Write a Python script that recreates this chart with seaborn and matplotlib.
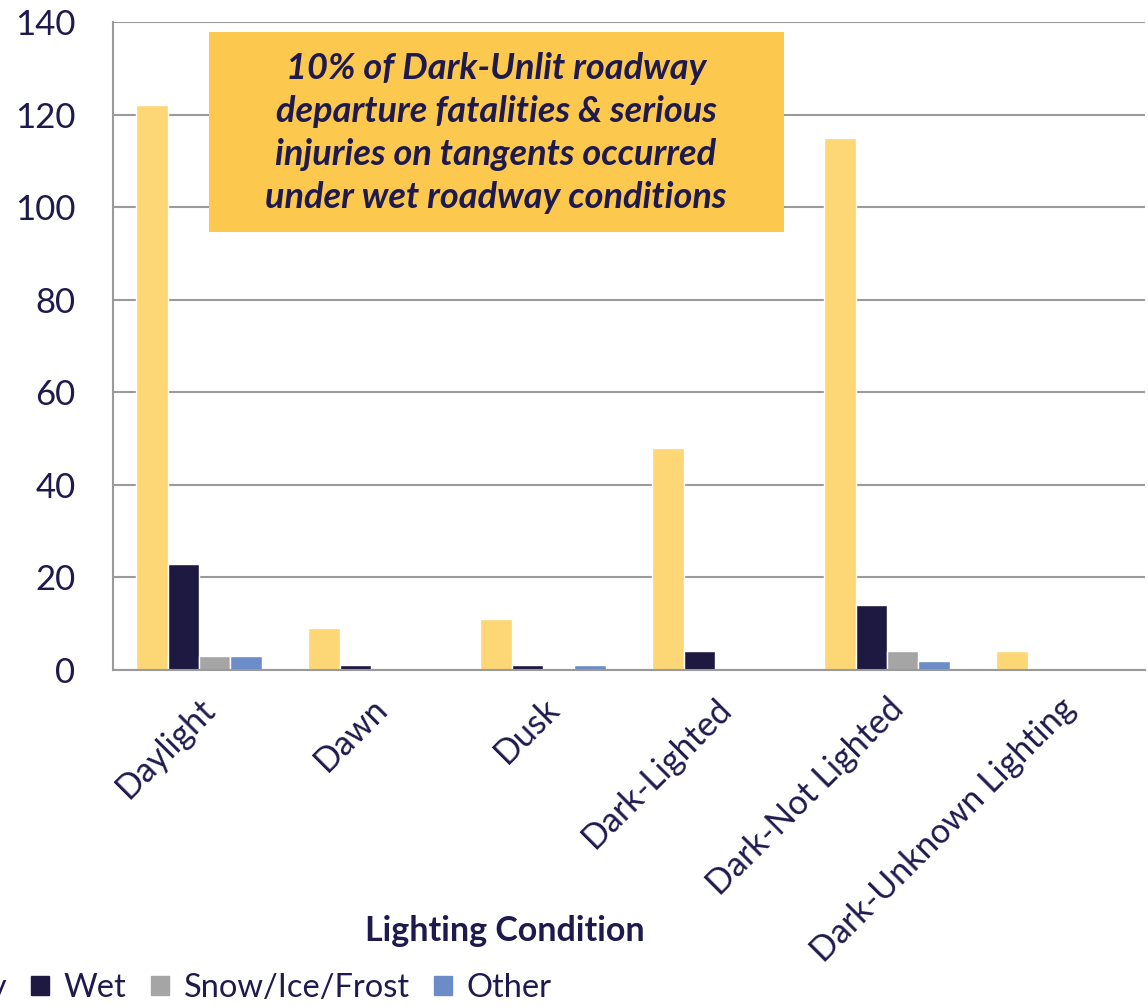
import pandas as pd
import numpy as np
import matplotlib.pyplot as plt
import seaborn as sns
from matplotlib.patches import Rectangle

# Daten
categories = ['Daylight', 'Dawn', 'Dusk', 'Dark-Lighted', 'Dark-Not Lighted', 'Dark-Unknown Lighting']
dry = [122, 9, 11, 48, 115, 4]
wet = [23, 1, 1, 4, 14, 0]
snow = [3, 0, 0, 0, 4, 0]
other = [3, 0, 1, 0, 2, 0]
series_names = ['Dry', 'Wet', 'Snow/Ice/Frost', 'Other']
colors = ['#FDD675', '#1E1941', '#A5A5A5', '#6C8CC8']
text_col = '#1F1A4D'

df = pd.DataFrame({'Lighting': categories, 'Dry': dry, 'Wet': wet,
                   'Snow/Ice/Frost': snow, 'Other': other})
long_df = df.melt(id_vars='Lighting', var_name='Surface', value_name='Count')

sns.set_style('white')
plt.rcParams['font.family'] = ['Lato', 'DejaVu Sans']

fig = plt.figure(figsize=(11.48, 10.06), dpi=100)
ax = fig.add_axes([113 / 1148, 1 - 670 / 1006, 1032 / 1148, 648 / 1006])

sns.barplot(data=long_df, x='Lighting', y='Count', hue='Surface',
            hue_order=series_names, palette=colors, width=0.73,
            saturation=1, ax=ax, legend=False)

ax.set_ylim(0, 140)
ax.set_xlim(-0.5, 5.5)
ax.set_yticks(range(0, 141, 20))
ax.yaxis.grid(True, color='#9A9A9A', linewidth=1.5)
ax.set_axisbelow(True)
for s in ['top', 'right']:
    ax.spines[s].set_visible(False)
for s in ['left', 'bottom']:
    ax.spines[s].set_color('#9A9A9A')
    ax.spines[s].set_linewidth(1.5)

ax.set_xticks(np.arange(-0.5, 6, 1), minor=True)
ax.tick_params(axis='x', which='minor', length=12, width=1.5, color='#9A9A9A', direction='out')
ax.tick_params(axis='x', which='major', length=0, pad=16)
ax.tick_params(axis='y', length=12, width=1.5, color='#9A9A9A', direction='out',
               labelsize=25, labelcolor=text_col, pad=15)
ax.set_xticks(range(len(categories)))
ax.set_xticklabels(categories, rotation=45, ha='right', rotation_mode='anchor',
                   fontsize=24.5, color=text_col)

ax.set_ylabel('')
ax.set_xlabel('Lighting Condition', fontsize=24.5, fontweight='bold', color=text_col)
ax.xaxis.set_label_coords(0.38, -0.378)

# Hinweisbox
fig.patches.append(Rectangle((209 / 1148, 1 - 232 / 1006), 575 / 1148, 200 / 1006,
                             transform=fig.transFigure, facecolor='#FCC94E',
                             edgecolor='none', zorder=5))
fig.text(496 / 1148, 1 - 133 / 1006,
         '10% of Dark-Unlit roadway\ndeparture fatalities & serious\n'
         'injuries on tangents occurred\nunder wet roadway conditions',
         ha='center', va='center', fontsize=26, fontweight='bold', style='italic',
         color=text_col, linespacing=1.38, zorder=6)

# Legende (links abgeschnitten wie im Original)
handles = [Rectangle((0, 0), 1, 1, color=c) for c in colors]
fig.legend(handles, series_names, loc='center', ncol=4,
           bbox_to_anchor=(236 / 1148, 1 - 988 / 1006), frameon=False,
           fontsize=23.5, labelcolor=text_col, handlelength=0.55, handleheight=0.55,
           handletextpad=0.45, columnspacing=0.75)

fig.savefig('out.png', dpi=100)
